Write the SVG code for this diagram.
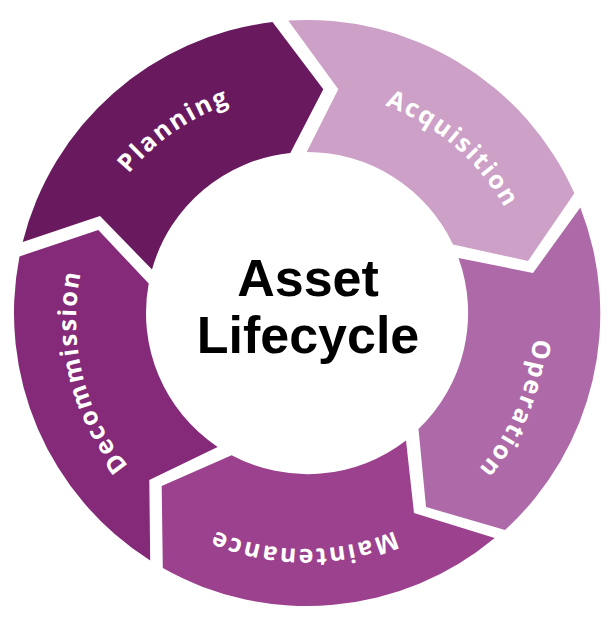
<svg xmlns="http://www.w3.org/2000/svg" width="615" height="621" viewBox="0 0 615 621">
  <defs>
    <path id="ring" d="M305,91 A229,229 0 1 1 305,549 A229,229 0 1 1 305,91"/>
    <style>
      .lbl { font-family: "Open Sans", "Liberation Sans", sans-serif; font-weight: 700; font-size: 25px; fill: #ffffff; letter-spacing: 2px; }
      .title { font-family: "Liberation Sans", Arial, sans-serif; font-weight: bold; font-size: 52px; fill: #000000; text-anchor: middle; }
    </style>
  </defs>
  <rect width="615" height="621" fill="#ffffff"/>
  <g id="planning">
    <path d="M22.7,242 A293,293 0 0 1 272.5,22.1 L323.3,89.3 L290.3,152.9 A161,161 0 0 0 152,269.5 L100,216 Z" fill="#691a5e"/>
    <text class="lbl"><textPath href="#ring" startOffset="1300" text-anchor="middle">Planning</textPath></text>
  </g>
  <g id="acquisition">
    <path d="M288.2,20.6 A293,293 0 0 1 574.4,193.3 L528,261 L453,244.5 A161,161 0 0 0 306.7,152 L338.3,89.3 Z" fill="#cda0c8"/>
    <text class="lbl"><textPath href="#ring" startOffset="163" text-anchor="middle">Acquisition</textPath></text>
  </g>
  <g id="operation">
    <path d="M580.3,207.4 A293,293 0 0 1 505,530 L426,507 L418.5,429 A161,161 0 0 0 458.5,258 L533,273 Z" fill="#ae6aa8"/>
    <text class="lbl"><textPath href="#ring" startOffset="451" text-anchor="middle">Operation</textPath></text>
  </g>
  <g id="maintenance">
    <path d="M494.7,538 A293,293 0 0 1 162.8,568.1 L161.7,486 L231.6,455.2 A161,161 0 0 0 406,440.5 L414,513 Z" fill="#9c418e"/>
    <text class="lbl"><textPath href="#ring" startOffset="720" text-anchor="middle">Maintenance</textPath></text>
  </g>
  <g id="decommission">
    <path d="M150.2,560.5 A293,293 0 0 1 19.5,256.4 L98.3,230 L148.7,283.6 A161,161 0 0 0 217.6,446.9 L149.3,480 Z" fill="#842a78"/>
    <text class="lbl"><textPath href="#ring" startOffset="1024" text-anchor="middle">Decommission</textPath></text>
  </g>
  <g id="center">
    <text class="title" x="308" y="296">Asset</text>
    <text class="title" x="308" y="353">Lifecycle</text>
  </g>
  <g id="connectors"></g>
</svg>
